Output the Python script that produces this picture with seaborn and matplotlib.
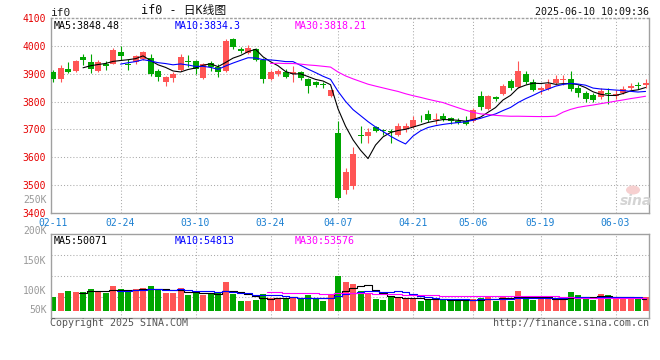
import numpy as np
import pandas as pd
import matplotlib
matplotlib.use("Agg")
import matplotlib.pyplot as plt
from matplotlib.patches import Ellipse
import seaborn as sns

# ---------------- data ----------------
opens = [3905, 3880, 3918, 3910, 3961, 3942, 3911, 3936, 3936, 3979,
         3936, 3940, 3953, 3957, 3911, 3869, 3883, 3914, 3945, 3946,
         3884, 3938, 3925, 3910, 4025, 3987, 3974, 3987, 3948, 3882,
         3900, 3905, 3900, 3905, 3879, 3869, 3863, 3820, 3686, 3484,
         3496, 3680, 3676, 3708, 3697, 3694, 3682, 3703, 3708, 3736,
         3757, 3737, 3748, 3740, 3732, 3730, 3730, 3821, 3775, 3815,
         3828, 3873, 3852, 3899, 3870, 3842, 3846, 3867, 3877, 3879,
         3849, 3829, 3823, 3815, 3829, 3821, 3831, 3849, 3858, 3858]
closes = [3882, 3921, 3907, 3946, 3948, 3918, 3943, 3926, 3983, 3964,
          3932, 3962, 3976, 3899, 3888, 3886, 3898, 3958, 3943, 3915,
          3935, 3924, 3907, 4017, 3994, 3982, 3992, 3950, 3882, 3906,
          3910, 3889, 3906, 3885, 3857, 3859, 3860, 3840, 3453, 3547,
          3614, 3675, 3690, 3695, 3694, 3691, 3712, 3711, 3735, 3734,
          3734, 3739, 3736, 3731, 3724, 3719, 3768, 3779, 3818, 3808,
          3855, 3850, 3910, 3870, 3843, 3849, 3864, 3882, 3881, 3846,
          3830, 3810, 3807, 3837, 3826, 3828, 3845, 3855, 3856, 3867]
highs = [3912, 3929, 3943, 3950, 3969, 3969, 3947, 3945, 3990, 3998,
         3952, 3968, 3980, 3971, 3915, 3893, 3905, 3970, 3967, 3950,
         3937, 3946, 3933, 4023, 4029, 3995, 4003, 3992, 3955, 3912,
         3917, 3915, 3926, 3910, 3885, 3875, 3871, 3843, 3732, 3561,
         3637, 3714, 3707, 3712, 3702, 3700, 3724, 3724, 3748, 3750,
         3771, 3760, 3760, 3745, 3740, 3749, 3776, 3838, 3822, 3820,
         3862, 3882, 3944, 3911, 3880, 3855, 3880, 3896, 3896, 3911,
         3858, 3837, 3829, 3849, 3847, 3840, 3855, 3868, 3871, 3882]
lows = [3870, 3869, 3901, 3906, 3931, 3901, 3907, 3912, 3933, 3948,
        3912, 3935, 3948, 3890, 3873, 3857, 3869, 3908, 3925, 3900,
        3880, 3908, 3888, 3907, 3988, 3975, 3970, 3945, 3868, 3878,
        3893, 3883, 3869, 3878, 3832, 3852, 3850, 3816, 3450, 3468,
        3488, 3652, 3652, 3690, 3679, 3652, 3676, 3690, 3705, 3725,
        3727, 3720, 3729, 3718, 3720, 3716, 3726, 3768, 3771, 3802,
        3825, 3843, 3849, 3862, 3836, 3828, 3842, 3860, 3860, 3837,
        3816, 3800, 3800, 3808, 3790, 3808, 3828, 3841, 3844, 3849]
volumes_k = [57, 74, 82, 78, 78, 90, 82, 74, 103, 90,
             80, 90, 94, 103, 90, 74, 74, 94, 65, 74,
             65, 74, 78, 119, 69, 40, 40, 45, 69, 53,
             49, 49, 57, 53, 65, 49, 40, 65, 146, 119,
             111, 83, 75, 49, 45, 62, 53, 49, 49, 42,
             49, 49, 49, 42, 42, 45, 49, 53, 62, 42,
             62, 42, 82, 62, 45, 49, 49, 49, 49, 78,
             65, 53, 45, 69, 65, 49, 49, 49, 49, 56]

date_tick_pos = [0, 9, 19, 29, 38, 48, 56, 65, 75]
date_tick_labels = ["02-11", "02-24", "03-10", "03-24", "04-07",
                    "04-21", "05-06", "05-19", "06-03"]
price_ticks = [3400, 3500, 3600, 3700, 3800, 3900, 4000, 4100]
vol_tick_labels = ["250K", "200K", "150K", "100K", "50K"]
price_ma_labels = ["MA5:3848.48", "MA10:3834.3", "MA30:3818.21"]
vol_ma_labels = ["MA5:50071", "MA10:54813", "MA30:53576"]

# ---------------- style ----------------
sns.set_style("white")
plt.rcParams["font.family"] = ["DejaVu Sans Mono", "Noto Sans CJK SC"]

RED = "#FF5555"
GREEN = "#00A600"
GRID = "#AAAAAA"
BORDER = "#A0A0A0"
LW = 0.8

df = pd.DataFrame({"i": np.arange(len(closes)), "o": opens, "c": closes,
                   "h": highs, "l": lows, "v": volumes_k})
df["up"] = df["c"] >= df["o"]
df["col"] = np.where(df["up"], RED, GREEN)
for w in (5, 10, 30):
    df[f"ma{w}"] = df["c"].rolling(w).mean()
    df[f"vma{w}"] = df["v"].rolling(w).mean()

W, H = 660, 360
fig = plt.figure(figsize=(6.6, 3.6), dpi=100)
fig.patch.set_facecolor("white")

def fx(px):
    return px / W

def fy(py):
    return 1 - py / H

L, R = 50.7, 649.3
ax = fig.add_axes([fx(L), fy(213.3), fx(R) - fx(L), fy(17.7) - fy(213.3)])
axv = fig.add_axes([fx(L), fy(317.7), fx(R) - fx(L), fy(234.3) - fy(317.7)])

xlim = (-0.31, 79.5)

# ---------------- price panel ----------------
ax.set_xlim(*xlim)
ax.set_ylim(3400, 4100)
for p in price_ticks[1:-1]:
    ax.axhline(p, color=GRID, lw=0.75, ls=(0, (1, 2)), zorder=0)
for x in date_tick_pos[1:]:
    ax.axvline(x, color=GRID, lw=0.75, ls=(0, (1, 2)), zorder=0)

ax.vlines(df["i"], df["l"], df["h"], colors=df["col"], lw=LW, zorder=2)
diff = (df["c"] - df["o"]).abs()
body_h = np.maximum(diff, 3.0)
body_b = np.minimum(df["o"], df["c"]) - np.where(diff < 3, 1.5, 0)
ax.bar(df["i"], body_h, bottom=body_b, width=0.8, color=df["col"], lw=0, zorder=3)

sns.lineplot(x=df["i"], y=df["ma5"], ax=ax, color="black", lw=LW, zorder=4)
sns.lineplot(x=df["i"], y=df["ma10"], ax=ax, color="#0000FF", lw=LW, zorder=4)
sns.lineplot(x=df["i"], y=df["ma30"], ax=ax, color="#FF00FF", lw=LW, zorder=4)

ax.set_yticks(price_ticks)
ax.set_yticklabels([str(p) for p in price_ticks], color="#E60000", fontsize=7)
ax.set_xticks(date_tick_pos)
ax.set_xticklabels(date_tick_labels, color="#1A7FD1", fontsize=7)
ax.tick_params(axis="both", length=0, pad=3.2)
ax.set_xlabel("")
ax.set_ylabel("")
for s in ax.spines.values():
    s.set_color(BORDER)
    s.set_linewidth(1.0)
ax.spines["top"].set_linestyle((0, (1, 2)))

colors_ma = ["black", "#0000FF", "#FF00FF"]
label_px = [54, 175, 295]
for lab, c, px in zip(price_ma_labels, colors_ma, label_px):
    ax.text((px - L) / (R - L), 0.985, lab, transform=ax.transAxes, color=c,
            fontsize=7.2, va="top", ha="left")

# sina watermark (logo shape + text)
fig.add_artist(Ellipse((fx(633), fy(190)), width=14 / W, height=9 / H,
                       transform=fig.transFigure, facecolor="#F6D0D0",
                       edgecolor="none", zorder=1))
fig.text(fx(636), fy(201), "sina", color="#D4D4D4", fontsize=10, fontweight="bold",
         style="italic", ha="center", va="center", family="DejaVu Sans")

# ---------------- volume panel ----------------
axv.set_xlim(*xlim)
axv.set_ylim(-29, 318)
for frac in (0.25, 0.5, 0.75):
    axv.axhline(-29 + 347 * frac, color=GRID, lw=0.75, ls=(0, (1, 2)), zorder=0)
for x in date_tick_pos[1:]:
    axv.axvline(x, color=GRID, lw=0.75, ls=(0, (1, 2)), zorder=0)
axv.bar(df["i"], df["v"], width=0.8, color=df["col"], lw=0, zorder=2)
axv.plot(df["i"], df["vma5"], color="black", lw=LW, drawstyle="steps-mid", zorder=4)
axv.plot(df["i"], df["vma10"], color="#0000FF", lw=LW, drawstyle="steps-mid", zorder=4)
axv.plot(df["i"], df["vma30"], color="#FF00FF", lw=LW, drawstyle="steps-mid", zorder=4)
axv.set_xticks([])
axv.set_yticks([])
axv.set_xlabel("")
axv.set_ylabel("")
for s in axv.spines.values():
    s.set_color(BORDER)
    s.set_linewidth(1.0)

for lab, c, px in zip(vol_ma_labels, colors_ma, label_px):
    axv.text((px - L) / (R - L), 0.985, lab, transform=axv.transAxes, color=c,
             fontsize=7.2, va="top", ha="left")

for lab, py in zip(vol_tick_labels, [200.3, 231, 260.7, 290.7, 310.3]):
    fig.text(fx(46.5), fy(py), lab, color="#999999", fontsize=7, ha="right", va="center")

# ---------------- header / footer ----------------
fig.text(fx(50.7), fy(12.5), "if0", color="#222222", fontsize=8, ha="left", va="center")
fig.text(fx(140.7), fy(10.8), "if0 - 日K线图", color="#111111", fontsize=8.5,
         ha="left", va="center")
fig.text(fx(649), fy(11.7), "2025-06-10 10:09:36", color="#111111", fontsize=7.2,
         ha="right", va="center")
fig.text(fx(50), fy(323), "Copyright 2025 SINA.COM", color="#555555", fontsize=7.2,
         ha="left", va="center")
fig.text(fx(649), fy(323), "http://finance.sina.com.cn", color="#555555", fontsize=7.2,
         ha="right", va="center")

fig.savefig("out.png", dpi=100, facecolor="white")
